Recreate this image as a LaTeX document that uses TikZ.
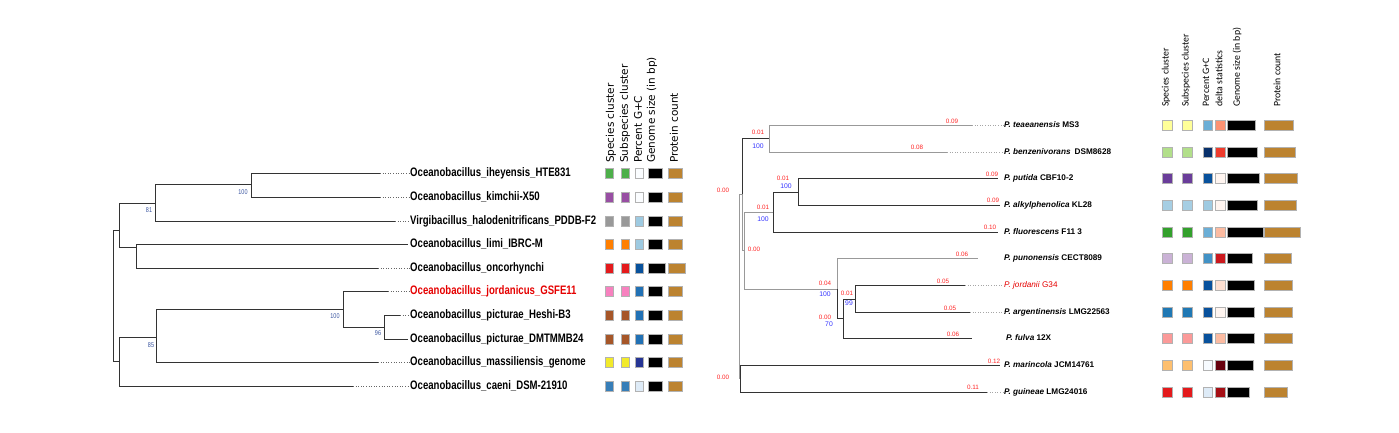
\documentclass[tikz,border=0pt]{standalone}
\usepackage{fontspec}
\setmainfont{Liberation Sans}
\newfontfamily\narrowfont[FakeStretch=0.78]{Liberation Sans}
\newfontfamily\headfont{DejaVu Sans}
\newfontfamily\calfont{Carlito}
\definecolor{bootblue}{HTML}{3A55A0}
\definecolor{protbrown}{HTML}{BC8330}
\definecolor{lgreen}{HTML}{4DAF4A}
\definecolor{lpurple}{HTML}{984EA3}
\definecolor{lgray}{HTML}{999999}
\definecolor{lorange}{HTML}{FF7F00}
\definecolor{lred}{HTML}{E41A1C}
\definecolor{lpink}{HTML}{F781BF}
\definecolor{lbrown}{HTML}{A65628}
\definecolor{lyellow}{HTML}{F2EA2A}
\definecolor{lblue}{HTML}{377EB8}
\definecolor{gcwhite}{HTML}{FBFDFF}
\definecolor{gclight}{HTML}{9ECAE1}
\definecolor{gcdark}{HTML}{08519C}
\definecolor{gcmid}{HTML}{2171B5}
\definecolor{gcnavy}{HTML}{253494}
\definecolor{gcpale}{HTML}{DEEBF7}
\definecolor{ryellow}{HTML}{FFFF99}
\definecolor{rlgreen}{HTML}{B2DF8A}
\definecolor{rpurple}{HTML}{6A3D9A}
\definecolor{rlblue}{HTML}{A6CEE3}
\definecolor{rgreen}{HTML}{33A02C}
\definecolor{rlilac}{HTML}{CAB2D6}
\definecolor{rdblue}{HTML}{1F78B4}
\definecolor{rpink}{HTML}{FB9A99}
\definecolor{rlorange}{HTML}{FDBF6F}
\definecolor{rred}{HTML}{E31A1C}
\definecolor{rsky}{HTML}{6BAED6}
\definecolor{rnavy}{HTML}{08306B}
\definecolor{rmid}{HTML}{4292C6}
\definecolor{rsalmon}{HTML}{FC9272}
\definecolor{rtomato}{HTML}{EF3B2C}
\definecolor{rwhite}{HTML}{FFF5F0}
\definecolor{rpeach}{HTML}{FCBBA1}
\definecolor{rcrimson}{HTML}{CB181D}
\definecolor{rblush}{HTML}{FEE0D2}
\definecolor{rmaroon}{HTML}{67000D}
\definecolor{rdred}{HTML}{A50F15}
\definecolor{rice}{HTML}{F7FBFF}

\begin{document}
\begin{tikzpicture}[x=1pt,y=-1pt,
  branch/.style={line width=0.9pt,black!80},
  rbranch/.style={line width=0.7pt,black!80},
  pale/.style={line width=0.7pt,black!40},
  tip/.style={dotted,line width=0.6pt,black!60},
  leafname/.style={anchor=west,inner sep=0pt,font=\narrowfont\bfseries\fontsize{12.3}{12}\selectfont},
  rleaf/.style={anchor=west,inner sep=0pt,font=\bfseries\fontsize{8.2}{9}\selectfont},
  boot/.style={inner sep=0pt,font=\narrowfont\fontsize{7}{7}\selectfont,text=bootblue},
  blen/.style={inner sep=0pt,font=\fontsize{6.3}{6.3}\selectfont,text=red!85},
  rboot/.style={inner sep=0pt,font=\fontsize{6.8}{6.8}\selectfont,text=blue!80},
  lhead/.style={rotate=90,anchor=west,inner sep=0pt,font=\headfont\fontsize{10.5}{10.5}\selectfont},
  rhead/.style={rotate=90,anchor=west,inner sep=0pt,font=\calfont\fontsize{9.8}{10}\selectfont},
  cell/.style={draw=black!30,line width=0.3pt}]
\useasboundingbox (0,0) rectangle (1399,432);

% left tree
\coordinate (l0) at (113,295);
\coordinate (lu) at (119,230);
\coordinate (lw) at (119,361);
\coordinate (la) at (155,203);
\coordinate (lb) at (136,247);
\coordinate (la1) at (251,184);
\coordinate (lc) at (156,337);
\coordinate (ld) at (343,309);
\coordinate (le) at (384,327);
\coordinate (ihe) at (380,173);
\coordinate (kim) at (380,197);
\coordinate (vir) at (395,221);
\coordinate (lim) at (408,244);
\coordinate (onc) at (378,268);
\coordinate (jor) at (388,291);
\coordinate (hes) at (400,315);
\coordinate (dmt) at (408,339);
\coordinate (mas) at (378,362);
\coordinate (cae) at (353,386);
\draw[branch] (l0) |- (lu);
\draw[branch] (l0) |- (lw);
\draw[branch] (lu) |- (la);
\draw[branch] (lu) |- (lb);
\draw[branch] (la) |- (la1);
\draw[branch] (la) |- (vir);
\draw[branch] (la1) |- (ihe);
\draw[branch] (la1) |- (kim);
\draw[branch] (lb) |- (lim);
\draw[branch] (lb) |- (onc);
\draw[branch] (lw) |- (lc);
\draw[branch] (lw) |- (cae);
\draw[branch] (lc) |- (ld);
\draw[branch] (lc) |- (mas);
\draw[branch] (ld) |- (jor);
\draw[branch] (ld) |- (le);
\draw[branch] (le) |- (hes);
\draw[branch] (le) |- (dmt);

\node[leafname] (nihe) at (410,173) {Oceanobacillus\_iheyensis\_HTE831};
\node[leafname] (nkim) at (410,197) {Oceanobacillus\_kimchii-X50};
\node[leafname] (nvir) at (410,221) {Virgibacillus\_halodenitrificans\_PDDB-F2};
\node[leafname] (nlim) at (410,244) {Oceanobacillus\_limi\_IBRC-M};
\node[leafname] (nonc) at (410,268) {Oceanobacillus\_oncorhynchi};
\node[leafname,text=red!90!black] (njor) at (410,291) {Oceanobacillus\_jordanicus\_GSFE11};
\node[leafname] (nhes) at (410,315) {Oceanobacillus\_picturae\_Heshi-B3};
\node[leafname] (ndmt) at (410,339) {Oceanobacillus\_picturae\_DMTMMB24};
\node[leafname] (nmas) at (410,362) {Oceanobacillus\_massiliensis\_genome};
\node[leafname] (ncae) at (410,386) {Oceanobacillus\_caeni\_DSM-21910};
\foreach \a/\b in {ihe/nihe,kim/nkim,vir/nvir,onc/nonc,jor/njor,hes/nhes,mas/nmas,cae/ncae}
  \draw[tip] (\a) -- (\b.west);

\node[boot] (bt1) at (243,192) {100};
\node[boot] (bt2) at (149,210) {81};
\node[boot] (bt3) at (335,316) {100};
\node[boot] (bt4) at (378,333) {96};
\node[boot] (bt5) at (151,345) {85};

\node[lhead] (h1) at (611,163) {Species cluster};
\node[lhead] (h2) at (625,163) {Subspecies cluster};
\node[lhead] (h3) at (638,163) {Percent G+C};
\node[lhead] (h4) at (652,163) {Genome size (in bp)};
\node[lhead] (h5) at (674,163) {Protein count};

\foreach \y/\sp/\gc/\w in {173/lgreen/gcwhite/0, 197/lpurple/gcwhite/0, 221/lgray/gclight/0,
  244/lorange/gclight/0, 268/lred/gcdark/3, 291/lpink/gcmid/0, 315/lbrown/gcmid/0,
  339/lbrown/gcmid/0, 362/lyellow/gcnavy/0, 386/lblue/gcpale/0} {
  \filldraw[cell,fill=\sp] (605,\y-5) rectangle (613,\y+5);
  \filldraw[cell,fill=\sp] (621,\y-5) rectangle (629,\y+5);
  \filldraw[cell,fill=\gc] (635,\y-5) rectangle (643,\y+5);
  \filldraw[cell,fill=black] (648,\y-5) rectangle (662+\w,\y+5);
  \filldraw[cell,fill=protbrown] (668,\y-5) rectangle (682+\w,\y+5);
}

% right tree
\coordinate (r0) at (739,290);
\coordinate (rm) at (742,194);
\coordinate (rg) at (740,378);
\coordinate (rt) at (769,138);
\coordinate (rn) at (744,250);
\coordinate (rf) at (773,212);
\coordinate (rf1) at (798,192);
\coordinate (rp) at (837,289);
\coordinate (rq) at (843,318);
\coordinate (rj) at (855,299);
\coordinate (tea) at (972,125);
\coordinate (ben) at (947,152);
\coordinate (put) at (998,178);
\coordinate (alk) at (1000,205);
\coordinate (flu) at (998,232);
\coordinate (pun) at (978,258);
\coordinate (jdn) at (965,285);
\coordinate (arg) at (970,312);
\coordinate (ful) at (972,338);
\coordinate (mar) at (1000,365);
\coordinate (gui) at (987,392);
\draw[pale] (r0) |- (rm);
\draw[pale] (r0) |- (rg);
\draw[rbranch] (rm) |- (rt);
\draw[pale] (rm) |- (rn);
\draw[pale] (rt) |- (tea);
\draw[pale] (rt) |- (ben);
\draw[pale] (rn) |- (rf);
\draw[pale] (rn) |- (rp);
\draw[rbranch] (rf) |- (rf1);
\draw[rbranch] (rf) |- (flu);
\draw[rbranch] (rf1) |- (put);
\draw[rbranch] (rf1) |- (alk);
\draw[pale] (rp) |- (pun);
\draw[rbranch] (rp) |- (rq);
\draw[rbranch] (rq) |- (rj);
\draw[rbranch] (rq) |- (ful);
\draw[rbranch] (rj) |- (jdn);
\draw[rbranch] (rj) |- (arg);
\draw[rbranch] (rg) |- (mar);
\draw[rbranch] (rg) |- (gui);

\node[rleaf] (ntea) at (1004,125) {\textit{P. teaeanensis} MS3};
\node[rleaf] (nben) at (1004,152) {\textit{P. benzenivorans}\enspace DSM8628};
\node[rleaf] (nput) at (1004,178) {\textit{P. putida} CBF10-2};
\node[rleaf] (nalk) at (1004,205) {\textit{P. alkylphenolica} KL28};
\node[rleaf] (nflu) at (1004,232) {\textit{P. fluorescens} F11 3};
\node[rleaf] (npun) at (1004,258) {\textit{P. punonensis} CECT8089};
\node[rleaf,text=red!90!black,font=\fontsize{8.2}{9}\selectfont] (njdn) at (1004,285) {\textit{P. jordanii} G34};
\node[rleaf] (narg) at (1004,312) {\textit{P. argentinensis} LMG22563};
\node[rleaf] (nful) at (1006,338) {\textit{P. fulva} 12X};
\node[rleaf] (nmar) at (1004,365) {\textit{P. marincola} JCM14761};
\node[rleaf] (ngui) at (1004,392) {\textit{P. guineae} LMG24016};
\foreach \a/\b in {tea/ntea,ben/nben,jdn/njdn,arg/narg,gui/ngui}
  \draw[tip,black!35] (\a) -- (\b.west);

\node[blen] (b1) at (952,121) {0.09};
\node[blen] (b2) at (917,147) {0.08};
\node[blen] (b3) at (758,132) {0.01};
\node[rboot] (s3) at (758,146) {100};
\node[blen] (b4) at (723,190) {0.00};
\node[blen] (b5) at (763,207) {0.01};
\node[rboot] (s5) at (763,219) {100};
\node[blen] (b6) at (754,249) {0.00};
\node[blen] (b7) at (783,178) {0.01};
\node[rboot] (s7) at (786,186) {100};
\node[blen] (b8) at (992,174) {0.09};
\node[blen] (b9) at (993,200) {0.09};
\node[blen] (b10) at (990,227) {0.10};
\node[blen] (b11) at (962,254) {0.06};
\node[blen] (b12) at (825,283) {0.04};
\node[rboot] (s12) at (825,294) {100};
\node[blen] (b13) at (825,317) {0.00};
\node[rboot] (s13) at (829,324) {70};
\node[blen] (b14) at (847,293) {0.01};
\node[rboot] (s14) at (849,303) {99};
\node[blen] (b15) at (943,281) {0.05};
\node[blen] (b16) at (950,308) {0.05};
\node[blen] (b17) at (953,334) {0.06};
\node[blen] (b18) at (994,361) {0.12};
\node[blen] (b19) at (973,387) {0.11};
\node[blen] (b20) at (723,377) {0.00};

\node[rhead] (g1) at (1166,107) {Species cluster};
\node[rhead] (g2) at (1186,107) {Subspecies cluster};
\node[rhead] (g3) at (1206,107) {Percent G+C};
\node[rhead] (g4) at (1219,107) {delta statistics};
\node[rhead] (g5) at (1237,107) {Genome size (in bp)};
\node[rhead] (g6) at (1277,107) {Protein count};

\foreach \y/\sp/\gc/\dl/\g/\p in {125/ryellow/rsky/rsalmon/1255/1293, 152/rlgreen/rnavy/rtomato/1257/1295,
  178/rpurple/gcdark/rwhite/1259/1297, 205/rlblue/gclight/rwhite/1257/1296,
  232/rgreen/rsky/rpeach/1263/1300, 258/rlilac/rmid/rcrimson/1252/1291,
  285/lorange/gcdark/rblush/1254/1292, 312/rdblue/gcdark/rwhite/1254/1292,
  338/rpink/gcdark/rpeach/1254/1292, 365/rlorange/rice/rmaroon/1253/1292,
  392/rred/gcpale/rdred/1249/1287} {
  \filldraw[cell,fill=\sp] (1162,\y-5) rectangle (1172,\y+5);
  \filldraw[cell,fill=\sp] (1182,\y-5) rectangle (1192,\y+5);
  \filldraw[cell,fill=\gc] (1203,\y-5) rectangle (1212,\y+5);
  \filldraw[cell,fill=\dl] (1215,\y-5) rectangle (1225,\y+5);
  \filldraw[cell,fill=black] (1227,\y-5) rectangle (\g,\y+5);
  \filldraw[cell,fill=protbrown] (1264,\y-5) rectangle (\p,\y+5);
}
\end{tikzpicture}
\end{document}
